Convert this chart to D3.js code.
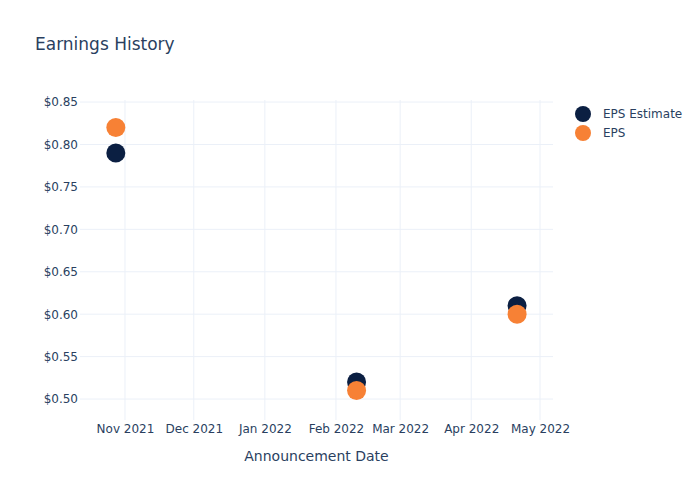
<!DOCTYPE html>
<html>
<head>
<meta charset="utf-8">
<script src="https://cdn.jsdelivr.net/npm/d3@7"></script>
<style>
  html, body { margin: 0; padding: 0; background: #fff; }
  svg { display: block; font-family: "DejaVu Sans", Verdana, sans-serif; }
</style>
</head>
<body>
<svg id="chart" width="700" height="500"></svg>
<script>
const dates = ["2021-10-28", "2022-02-10", "2022-04-21"];
const epsEstimate = [0.79, 0.52, 0.61];
const epsActual = [0.82, 0.51, 0.60];
const yTicks = [0.50, 0.55, 0.60, 0.65, 0.70, 0.75, 0.80, 0.85];
const seriesNames = ["EPS Estimate", "EPS"];
const seriesColors = ["#0b1f42", "#f78135"];

const svg = d3.select("#chart");
const plot = { left: 80, right: 553, top: 100, bottom: 420 };
const textColor = "#2a3f5f";
const gridColor = "#ebf0f8";

const parse = d3.utcParse("%Y-%m-%d");
const x = d3.scaleUtc()
  .domain([Date.UTC(2021, 9, 12, 9), Date.UTC(2022, 4, 6, 16)])
  .range([plot.left, plot.right]);
const y = d3.scaleLinear()
  .domain([0.4753, 0.8524])
  .range([plot.bottom, plot.top]);

// grid
const xTicks = x.ticks(d3.utcMonth.every(1));
svg.append("g").selectAll("line").data(xTicks).join("line")
  .attr("x1", d => x(d)).attr("x2", d => x(d))
  .attr("y1", plot.top).attr("y2", plot.bottom)
  .attr("stroke", gridColor).attr("stroke-width", 1);
svg.append("g").selectAll("line").data(yTicks).join("line")
  .attr("x1", plot.left).attr("x2", plot.right)
  .attr("y1", d => y(d)).attr("y2", d => y(d))
  .attr("stroke", gridColor).attr("stroke-width", 1);

// axes
const xAxis = d3.axisBottom(x).tickValues(xTicks)
  .tickFormat(d3.utcFormat("%b %Y")).tickSize(0).tickPadding(4);
const gx = svg.append("g").attr("transform", `translate(0,${plot.bottom})`).call(xAxis);
gx.select(".domain").remove();
gx.selectAll("text").attr("fill", textColor).attr("font-size", 12)
  .attr("font-family", "DejaVu Sans, sans-serif");

const yAxis = d3.axisLeft(y).tickValues(yTicks)
  .tickFormat(d => "$" + d3.format(".2f")(d)).tickSize(0).tickPadding(2);
const gy = svg.append("g").attr("transform", `translate(${plot.left},0)`).call(yAxis);
gy.select(".domain").remove();
gy.selectAll("text").attr("fill", textColor).attr("font-size", 12)
  .attr("font-family", "DejaVu Sans, sans-serif");

// markers
const series = [epsEstimate, epsActual];
series.forEach((vals, si) => {
  svg.append("g").selectAll("circle").data(vals).join("circle")
    .attr("cx", (d, i) => x(parse(dates[i])))
    .attr("cy", d => y(d))
    .attr("r", 9.5)
    .attr("fill", seriesColors[si]);
});

// title
svg.append("text").attr("x", 35).attr("y", 50)
  .attr("font-size", 17).attr("fill", textColor).text("Earnings History");

// x axis title
svg.append("text").attr("x", (plot.left + plot.right) / 2).attr("y", 461)
  .attr("text-anchor", "middle").attr("font-size", 14).attr("fill", textColor)
  .text("Announcement Date");

// legend
const lg = svg.append("g");
seriesNames.forEach((name, i) => {
  const ly = 114 + i * 19;
  lg.append("circle").attr("cx", 583).attr("cy", ly).attr("r", 8)
    .attr("fill", seriesColors[i]);
  lg.append("text").attr("x", 603).attr("y", ly + 4)
    .attr("font-size", 12).attr("fill", textColor).text(name);
});
</script>
</body>
</html>
